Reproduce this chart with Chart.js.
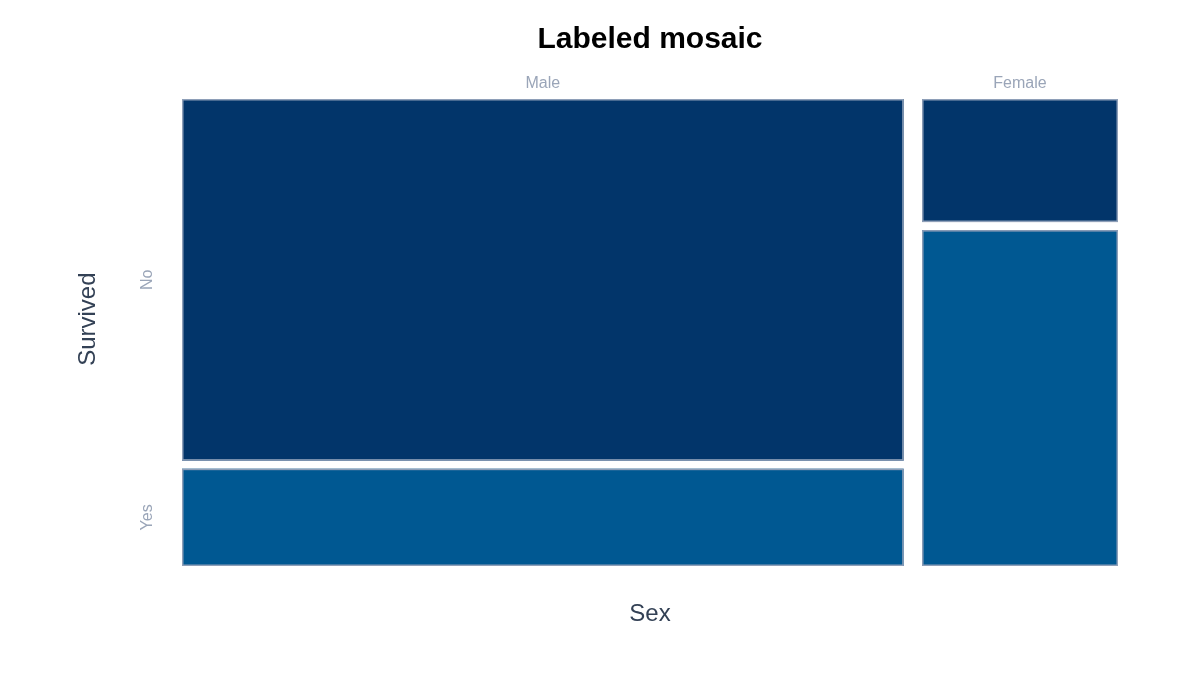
<!DOCTYPE html>
<html>
<head>
<meta charset="utf-8">
<title>Labeled mosaic</title>
<script src="https://cdn.jsdelivr.net/npm/chart.js@4.4.1/dist/chart.umd.min.js"></script>
<style>
  html, body { margin: 0; padding: 0; background: #ffffff; }
  #wrap { width: 1200px; height: 700px; }
</style>
</head>
<body>
<div id="wrap"><canvas id="mosaic" width="1200" height="700"></canvas></div>
<script>
// --- Data (Titanic passengers + crew) ---
const sexes = ["Male", "Female"];
const survived = ["No", "Yes"];
const countNo = [1364, 126];
const countYes = [367, 344];

// --- Look ---
const COLOR_NO = "#02356a";
const COLOR_YES = "#005892";
const CELL_BORDER = "#8e9fb8";
const GAP_X = 0.02; // share of total between columns
const GAP_Y = 0.0175; // share of column between rows
const FONT = "'Liberation Sans', Arial, Helvetica, sans-serif";

const colTotals = sexes.map((_, i) => countNo[i] + countYes[i]);
const grandTotal = colTotals.reduce((a, b) => a + b, 0);
const gapX = grandTotal * GAP_X;

// column start/end along x, in passenger counts
const colStart = [];
let run = 0;
for (let i = 0; i < sexes.length; i++) {
	colStart.push(run);
	run += colTotals[i] + gapX;
}
const xMax = run - gapX;
const colCenter = colStart.map((s, i) => s + colTotals[i] / 2);

// row splits per column, as shares (Yes at the bottom)
const yesShare = colTotals.map((t, i) => countYes[i] / t);
const yMax = 1 + GAP_Y;
const rowCenters = [
	(yesShare[0] + GAP_Y + yMax) / 2, // No
	yesShare[0] / 2, // Yes
];

function cells() {
	const out = [];
	for (let i = 0; i < sexes.length; i++) {
		const x0 = colStart[i];
		const x1 = colStart[i] + colTotals[i];
		out.push({ x0, x1, y0: yesShare[i] + GAP_Y, y1: yMax, color: COLOR_NO });
		out.push({ x0, x1, y0: 0, y1: yesShare[i], color: COLOR_YES });
	}
	return out;
}

const mosaicPlugin = {
	id: "mosaic",
	beforeDatasetsDraw(chart) {
		const { ctx } = chart;
		const xs = chart.scales.xTop;
		const ys = chart.scales.y;
		ctx.save();
		for (const c of cells()) {
			const left = xs.getPixelForValue(c.x0);
			const right = xs.getPixelForValue(c.x1);
			const top = ys.getPixelForValue(c.y1);
			const bottom = ys.getPixelForValue(c.y0);
			ctx.fillStyle = c.color;
			ctx.fillRect(left, top, right - left, bottom - top);
			ctx.lineWidth = 1.5;
			ctx.strokeStyle = CELL_BORDER;
			ctx.strokeRect(left + 0.75, top + 0.75, right - left - 1.5, bottom - top - 1.5);
		}
		ctx.restore();
	},
};

new Chart(document.getElementById("mosaic"), {
	type: "scatter",
	data: { datasets: [] },
	plugins: [mosaicPlugin],
	options: {
		responsive: false,
		animation: false,
		layout: { padding: { left: 0, right: 82, top: 0, bottom: 0 } },
		plugins: {
			legend: { display: false },
			tooltip: { enabled: false },
			title: { display: false },
		},
		scales: {
			// top axis carries the column labels and the chart title (centred on the plot)
			xTop: {
				type: "linear",
				position: "top",
				min: 0,
				max: xMax,
				grid: { display: false, drawTicks: false },
				border: { display: false },
				afterBuildTicks: (scale) => {
					scale.ticks = colCenter.map((v) => ({ value: v }));
				},
				afterFit: (scale) => {
					scale.height = 99;
				},
				ticks: {
					color: "#9aa5b8",
					padding: 6,
					maxRotation: 0,
					font: { family: FONT, size: 16 },
					callback: (v, i) => sexes[i],
				},
				title: {
					display: true,
					text: "Labeled mosaic",
					color: "#000000",
					font: { family: FONT, size: 30, weight: "bold" },
					padding: { top: 22, bottom: 0 },
				},
			},
			xBottom: {
				type: "linear",
				position: "bottom",
				min: 0,
				max: xMax,
				grid: { display: false, drawTicks: false },
				border: { display: false },
				ticks: { display: false },
				afterFit: (scale) => {
					scale.height = 134;
				},
				title: {
					display: true,
					text: "Sex",
					color: "#334155",
					font: { family: FONT, size: 24 },
					padding: { top: 0, bottom: 71 },
				},
			},
			y: {
				type: "linear",
				position: "left",
				min: 0,
				max: yMax,
				grid: { display: false, drawTicks: false },
				border: { display: false },
				afterBuildTicks: (scale) => {
					scale.ticks = rowCenters.map((v) => ({ value: v }));
				},
				afterFit: (scale) => {
					scale.width = 182;
				},
				ticks: {
					color: "#9aa5b8",
					padding: 21,
					minRotation: 90,
					maxRotation: 90,
					crossAlign: "center",
					font: { family: FONT, size: 16 },
					callback: (v, i) => survived[i],
				},
				title: {
					display: true,
					text: "    Survived",
					color: "#334155",
					font: { family: FONT, size: 24 },
					padding: { top: 74, bottom: 0 },
				},
			},
		},
	},
});
</script>
</body>
</html>
